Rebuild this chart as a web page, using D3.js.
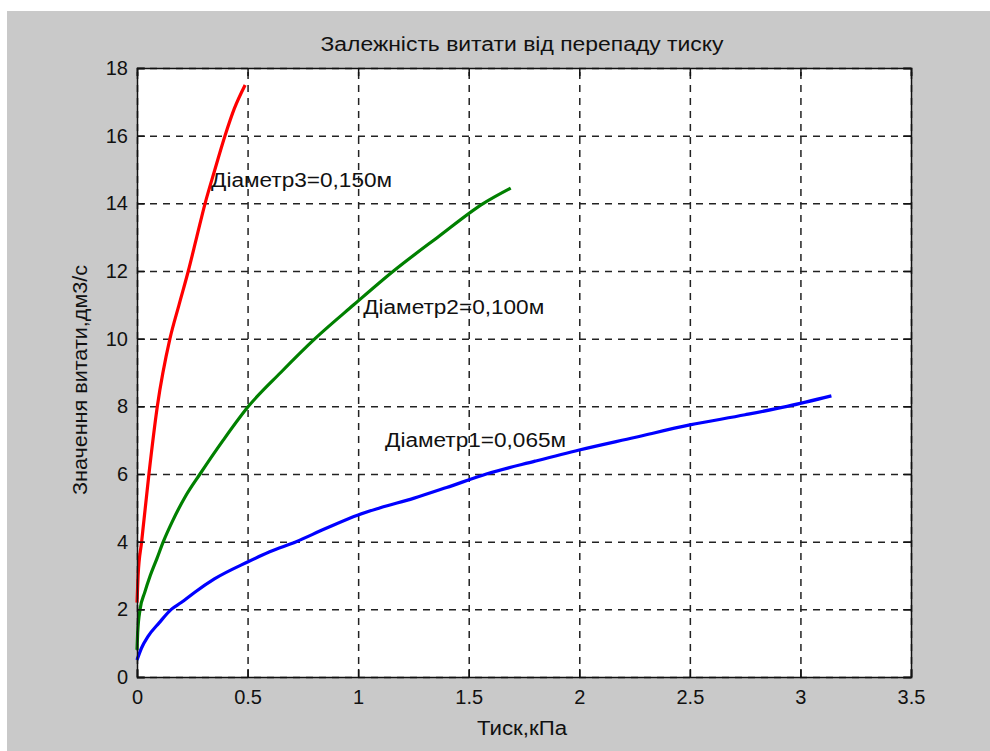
<!DOCTYPE html>
<html>
<head>
<meta charset="utf-8">
<script src="https://cdn.jsdelivr.net/npm/d3@7"></script>
<style>
  body { margin: 0; background: #fff; }
  svg text { font-family: "Liberation Sans", Arial, sans-serif; fill: #111; }
</style>
</head>
<body>
<svg id="chart" width="990" height="751"></svg>
<script>
// data: [pressure kPa, flow dm3/s]
const SERIES_NAMES = ["Діаметр1=0,065м", "Діаметр2=0,100м", "Діаметр3=0,150м"];
const SERIES_COLORS = ["#0000ff", "#008000", "#ff0000"];

const blue = [[0,0.5],[0.02,0.85],[0.05,1.2],[0.1,1.6],[0.155,2.0],[0.2,2.2],[0.26,2.5],[0.35,2.9],
  [0.5,3.4],[0.6,3.7],[0.72,4.0],[0.85,4.38],[1.0,4.79],[1.1,5.0],[1.25,5.28],[1.4,5.6],[1.58,6.0],
  [1.8,6.38],[2.0,6.71],[2.25,7.08],[2.5,7.45],[2.75,7.75],[2.94,8.0],[3.14,8.31]];
const green = [[0,0.8],[0.003,1.3],[0.014,2.0],[0.035,2.5],[0.06,3.0],[0.09,3.5],[0.119,4.0],[0.16,4.6],
  [0.22,5.35],[0.285,6.0],[0.39,7.0],[0.504,8.0],[0.65,9.0],[0.805,10.0],[0.98,11.0],[1.16,12.0],
  [1.36,13.0],[1.567,14.0],[1.69,14.45]];
const red = [[0,2.2],[0.005,3.0],[0.021,4.0],[0.054,6.0],[0.092,8.0],[0.149,10.0],[0.19,11.0],
  [0.232,12.0],[0.27,13.0],[0.308,14.0],[0.35,14.95],[0.398,16.0],[0.44,16.8],[0.489,17.5]];

// label anchors (left edge, baseline) in data units
const labelPos = [[1.122,6.8],[1.023,10.73],[0.335,14.48]];

const xTicks = [0,0.5,1,1.5,2,2.5,3,3.5];
const yTicks = [0,2,4,6,8,10,12,14,16,18];

const TITLE = "Залежність витати від перепаду тиску";
const XLABEL = "Тиск,кПа";
const YLABEL = "Значення витати,дм3/с";

let svg = d3.select("#chart");

// figure background (grey with thin white strip top/left)
svg.append("rect").attr("x",7).attr("y",11).attr("width",983).attr("height",740).attr("fill","#c9c9c9");

const plotL = 137, plotT = 68, plotR = 911, plotB = 677;

let x = d3.scaleLinear().domain([0,3.5]).range([plotL,plotR]);
let y = d3.scaleLinear().domain([0,18]).range([plotB,plotT]);

svg.append("rect")
.attr("x",plotL).attr("y",plotT).attr("width",plotR-plotL).attr("height",plotB-plotT)
.attr("fill","#fff");

// GRID
let gridX = svg.append("g").attr("transform",`translate(0,${plotB})`)
.call(d3.axisBottom(x).tickValues(xTicks).tickSize(-(plotB-plotT)).tickFormat(""));
let gridY = svg.append("g").attr("transform",`translate(${plotL},0)`)
.call(d3.axisLeft(y).tickValues(yTicks).tickSize(-(plotR-plotL)).tickFormat(""));
[gridX, gridY].forEach(g=>{
	g.select(".domain").remove();
	g.selectAll("line").attr("stroke","#222").attr("stroke-width",1.5).attr("stroke-dasharray","7,6");
});

// CURVES
let line = d3.line().curve(d3.curveMonotoneX).x(d=>x(d[0])).y(d=>y(d[1]));
[blue, green, red].forEach((s,i)=>{
	svg.append("path")
	.datum(s)
	.attr("d", line)
	.attr("fill","none")
	.attr("stroke", SERIES_COLORS[i])
	.attr("stroke-width", 3.2)
	.attr("stroke-linejoin","round");
});

// AXES (ticks pointing inward)
let fmt = d=>String(d);
let axB = svg.append("g").attr("transform",`translate(0,${plotB})`)
.call(d3.axisBottom(x).tickValues(xTicks).tickFormat(fmt).tickSize(-8).tickPadding(13));
let axT = svg.append("g").attr("transform",`translate(0,${plotT})`)
.call(d3.axisTop(x).tickValues(xTicks).tickSize(-8).tickFormat(""));
let axL = svg.append("g").attr("transform",`translate(${plotL},0)`)
.call(d3.axisLeft(y).tickValues(yTicks).tickFormat(fmt).tickSize(-8).tickPadding(9));
let axR = svg.append("g").attr("transform",`translate(${plotR},0)`)
.call(d3.axisRight(y).tickValues(yTicks).tickSize(-8).tickFormat(""));
[axB, axT, axL, axR].forEach(g=>{
	g.select(".domain").attr("stroke","#111").attr("stroke-width",1.5);
	g.selectAll(".tick line").attr("stroke","#111").attr("stroke-width",1.5);
	g.selectAll("text").attr("font-size",20).attr("font-family","Liberation Sans").attr("fill","#111");
});
axB.selectAll("text").attr("dy","0.71em");

// LABELS on curves
svg.append("g").selectAll("text")
.data(SERIES_NAMES)
.enter()
.append("text")
.attr("x",(d,i)=>x(labelPos[i][0]))
.attr("y",(d,i)=>y(labelPos[i][1]))
.attr("font-size",20)
.attr("textLength",181)
.attr("lengthAdjust","spacingAndGlyphs")
.text(d=>d);

// TITLE & AXIS TITLES
svg.append("text").attr("x",522).attr("y",51).attr("text-anchor","middle")
.attr("font-size",20).attr("textLength",403).attr("lengthAdjust","spacingAndGlyphs").text(TITLE);
svg.append("text").attr("x",522).attr("y",735).attr("text-anchor","middle")
.attr("font-size",20).attr("textLength",90).attr("lengthAdjust","spacingAndGlyphs").text(XLABEL);
svg.append("text").attr("transform","translate(87,380) rotate(-90)").attr("text-anchor","middle")
.attr("font-size",20).attr("textLength",230).attr("lengthAdjust","spacingAndGlyphs").text(YLABEL);
</script>
</body>
</html>
